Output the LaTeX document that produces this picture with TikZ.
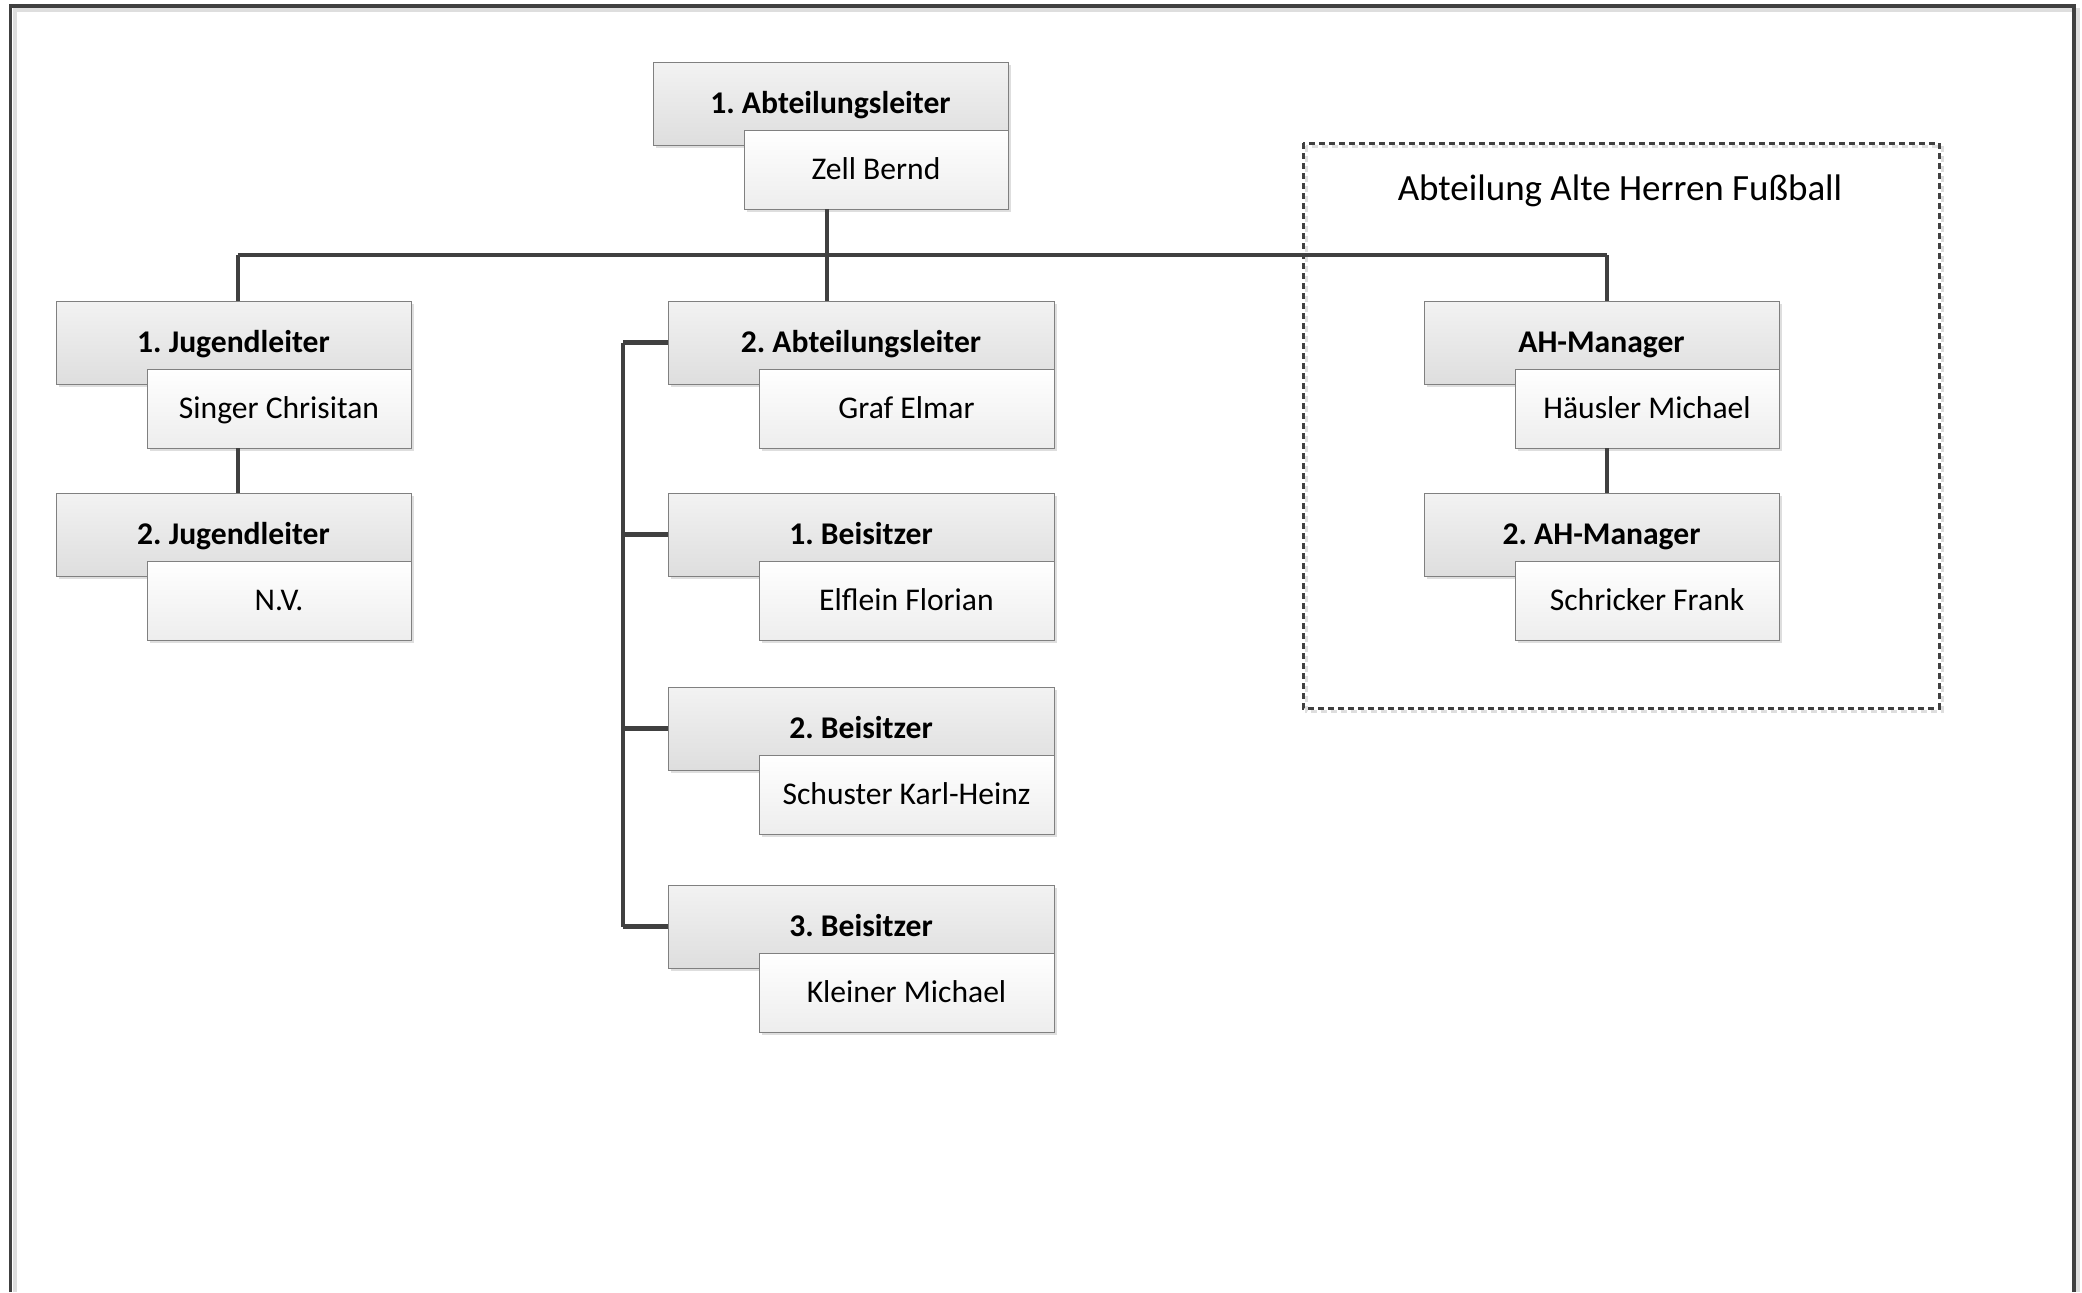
\documentclass[tikz,border=0pt]{standalone}
\usepackage{fontspec}
\setmainfont{Carlito}
\usepackage{tikz}
\usetikzlibrary{shadows}
\frenchspacing

\definecolor{linegray}{HTML}{404040}
\definecolor{boxedge}{HTML}{808080}
\definecolor{shadegray}{HTML}{DEDEDE}

\tikzset{
  posbox/.style={rectangle, draw=boxedge, line width=0.5pt, inner sep=0pt, outer sep=0pt,
    anchor=north west, minimum width=177.5pt, minimum height=41.5pt,
    text height=10pt, text depth=0pt,
    top color=black!5, bottom color=black!13,
    font=\bfseries\fontsize{15.8}{18}\selectfont,
    drop shadow={shadow xshift=1.5pt, shadow yshift=-1.5pt, fill=shadegray, opacity=1}},
  namebox/.style={rectangle, draw=boxedge, line width=0.5pt, inner sep=0pt, outer sep=0pt,
    anchor=north east, minimum width=132pt, minimum height=39.5pt,
    text height=10pt, text depth=0pt,
    top color=white, bottom color=black!7,
    font=\fontsize{15.8}{18}\selectfont,
    drop shadow={shadow xshift=1.5pt, shadow yshift=-1.5pt, fill=shadegray, opacity=1}},
  wide/.style={minimum width=193pt},
  widename/.style={minimum width=147.5pt},
  conn/.style={draw=linegray, line width=2.2pt},
  grouptitle/.style={font=\fontsize{18.5}{22}\selectfont, inner sep=0pt, anchor=base}
}

\begin{document}
\begin{tikzpicture}[line cap=butt,line join=miter,x=0.5pt,y=-0.5pt]
\useasboundingbox (0,0) rectangle (2082,1292);
% page frame, open at the bottom
\draw[shadegray, line width=2pt] (14.5,1292) -- (14.5,10) -- (2078,10) -- (2078,1292);
\draw[linegray, line width=1.75pt] (10.5,1292) -- (10.5,6) -- (2074,6) -- (2074,1292);
% AH group
\draw[shadegray, line width=1.5pt, dash pattern=on 3pt off 2pt] (1306,146) rectangle (1942,711);
\draw[linegray, line width=1.5pt, dash pattern=on 3pt off 2pt] (1303,143) rectangle (1939,708);
\node[grouptitle] (ahtitle) at (1620,200) {Abteilung Alte Herren Fußball};

\node[posbox] (abt1) at (653,62) {1. Abteilungsleiter};
\node[namebox] (abt1n) at ([yshift=-34pt]abt1.north east) {Zell Bernd};

\node[posbox] (jug1) at (56,301) {1. Jugendleiter};
\node[namebox] (jug1n) at ([yshift=-34pt]jug1.north east) {Singer Chrisitan};
\node[posbox] (jug2) at (56,493) {2. Jugendleiter};
\node[namebox] (jug2n) at ([yshift=-34pt]jug2.north east) {N.V.};

\node[posbox,wide] (abt2) at (668,301) {2. Abteilungsleiter};
\node[namebox,widename] (abt2n) at ([yshift=-34pt]abt2.north east) {Graf Elmar};
\node[posbox,wide] (bei1) at (668,493) {1. Beisitzer};
\node[namebox,widename] (bei1n) at ([yshift=-34pt]bei1.north east) {Elflein Florian};
\node[posbox,wide] (bei2) at (668,687) {2. Beisitzer};
\node[namebox,widename] (bei2n) at ([yshift=-34pt]bei2.north east) {Schuster Karl-Heinz};
\node[posbox,wide] (bei3) at (668,885) {3. Beisitzer};
\node[namebox,widename] (bei3n) at ([yshift=-34pt]bei3.north east) {Kleiner Michael};

\node[posbox] (ah1) at (1424,301) {AH-Manager};
\node[namebox] (ah1n) at ([yshift=-34pt]ah1.north east) {Häusler Michael};
\node[posbox] (ah2) at (1424,493) {2. AH-Manager};
\node[namebox] (ah2n) at ([yshift=-34pt]ah2.north east) {Schricker Frank};

% connectors
\coordinate (bus) at (0,255);
\coordinate (rail) at (623,0);
\coordinate (top) at ([xshift=-1.7pt]abt1.center);
\coordinate (jugtop) at ([xshift=2.2pt]jug1.north);
\coordinate (ahtop) at ([xshift=2.7pt]ah1.north);
\draw[conn] (top |- abt1n.south) -- (top |- bus);
\draw[conn] (jugtop |- bus) -- (ahtop |- bus);
\draw[conn] (jugtop |- bus) -- (jugtop);
\draw[conn] (ahtop |- bus) -- (ahtop);
\draw[conn] (top |- bus) -- (abt2.north -| top);
\draw[conn] (jugtop |- jug1n.south) -- (jug2.north -| jugtop);
\draw[conn] (ahtop |- ah1n.south) -- (ah2.north -| ahtop);
\draw[conn] (rail |- abt2.west) -- (rail |- bei3.west);
\foreach \b in {abt2,bei1,bei2,bei3}
  \draw[conn] (rail |- \b.west) -- (\b.west);
\end{tikzpicture}
\end{document}
